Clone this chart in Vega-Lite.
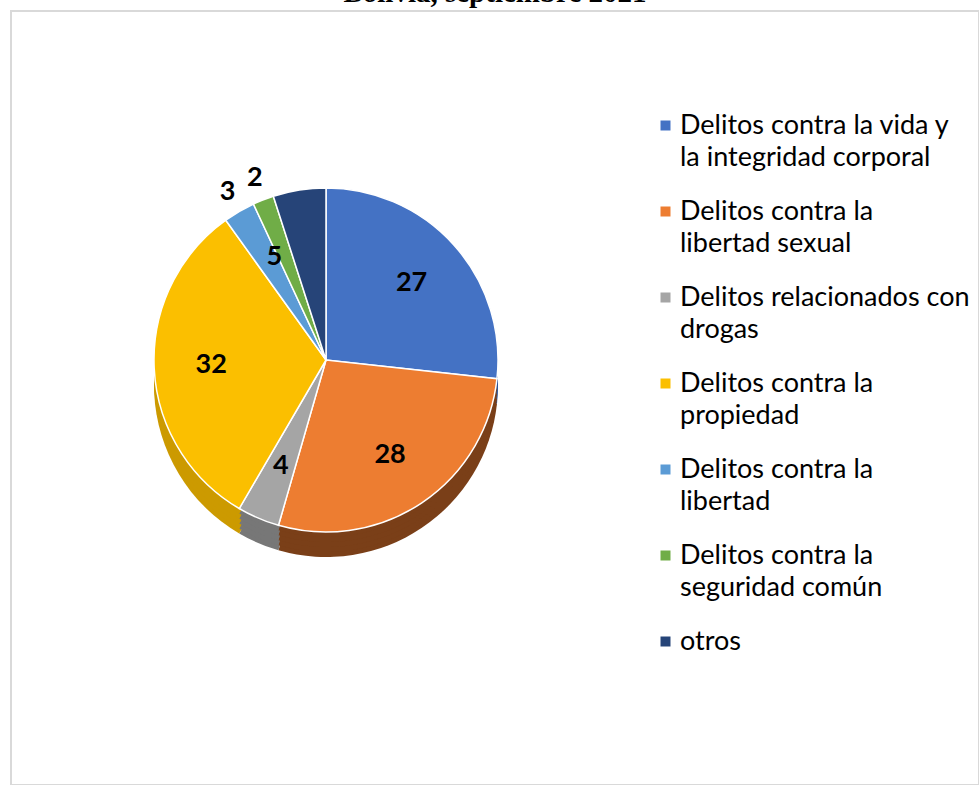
{
  "$schema": "https://vega.github.io/schema/vega-lite/v6.json",
  "width": 968,
  "height": 774,
  "autosize": {"type": "none"},
  "padding": {"left": 11, "top": 11, "right": 0, "bottom": 0},
  "background": "white",
  "config": {
    "view": {"stroke": null},
    "font": "Lato",
    "style": {"guide-label": {"lineHeight": 32}}
  },
  "title": {
    "text": "Bolivia, septiembre 2021",
    "font": "Liberation Serif",
    "fontSize": 29,
    "fontWeight": "bold",
    "color": "black",
    "anchor": "middle",
    "baseline": "alphabetic",
    "offset": 0,
    "dy": 21
  },
  "data": {
    "values": [
      {"delito": "Delitos contra la vida y la integridad corporal", "valor": 27, "orden": 1},
      {"delito": "Delitos contra la libertad sexual", "valor": 28, "orden": 2},
      {"delito": "Delitos relacionados con drogas", "valor": 4, "orden": 3},
      {"delito": "Delitos contra la propiedad", "valor": 32, "orden": 4},
      {"delito": "Delitos contra la libertad", "valor": 3, "orden": 5},
      {"delito": "Delitos contra la seguridad común", "valor": 2, "orden": 6},
      {"delito": "otros", "valor": 5, "orden": 7}
    ]
  },
  "layer": [
    {
      "data": {"values": [{}]},
      "mark": {"type": "rect", "fill": null, "stroke": "#d9d9d9", "strokeWidth": 2},
      "encoding": {}
    },
    {
      "layer": [
        {"mark": {"type": "arc", "outerRadius": 172, "xOffset": -169, "yOffset": -13}},
        {"mark": {"type": "arc", "outerRadius": 172, "xOffset": -169, "yOffset": -18}},
        {"mark": {"type": "arc", "outerRadius": 172, "xOffset": -169, "yOffset": -23}},
        {"mark": {"type": "arc", "outerRadius": 172, "xOffset": -169, "yOffset": -28}},
        {"mark": {"type": "arc", "outerRadius": 172, "xOffset": -169, "yOffset": -33}}
      ],
      "encoding": {
        "theta": {"field": "valor", "type": "quantitative", "stack": true},
        "order": {"field": "orden", "type": "quantitative"},
        "color": {
          "field": "delito",
          "type": "nominal",
          "scale": {
            "domain": ["Delitos contra la vida y la integridad corporal", "Delitos contra la libertad sexual", "Delitos relacionados con drogas", "Delitos contra la propiedad", "Delitos contra la libertad", "Delitos contra la seguridad común", "otros"],
            "range": ["#2f5597", "#7a3f18", "#777777", "#cc9a00", "#3f76a8", "#4f7f31", "#1a2f54"]
          },
          "legend": null
        }
      }
    },
    {
      "mark": {"type": "arc", "outerRadius": 172, "xOffset": -169, "yOffset": -38, "stroke": "white", "strokeWidth": 1.5},
      "encoding": {
        "theta": {"field": "valor", "type": "quantitative", "stack": true},
        "order": {"field": "orden", "type": "quantitative"},
        "color": {
          "field": "delito",
          "type": "nominal",
          "scale": {
            "domain": ["Delitos contra la vida y la integridad corporal", "Delitos contra la libertad sexual", "Delitos relacionados con drogas", "Delitos contra la propiedad", "Delitos contra la libertad", "Delitos contra la seguridad común", "otros"],
            "range": ["#4472c4", "#ed7d31", "#a5a5a5", "#fbbf00", "#5b9bd5", "#70ad47", "#264478"]
          },
          "legend": {
            "title": null,
            "orient": "none",
            "legendX": 641,
            "legendY": 101,
            "symbolType": "square",
            "symbolSize": 100,
            "symbolStrokeWidth": 0,
            "labelFont": "Lato",
            "labelFontSize": 27,
            "labelColor": "black",
            "labelLimit": 400,
            "labelOffset": 1,
            "rowPadding": 26,
            "labelExpr": "datum.label == 'Delitos contra la vida y la integridad corporal' ? ['Delitos contra la vida y', 'la integridad corporal'] : datum.label == 'Delitos contra la libertad sexual' ? ['Delitos contra la', 'libertad sexual'] : datum.label == 'Delitos relacionados con drogas' ? ['Delitos relacionados con', 'drogas'] : datum.label == 'Delitos contra la propiedad' ? ['Delitos contra la', 'propiedad'] : datum.label == 'Delitos contra la libertad' ? ['Delitos contra la', 'libertad'] : datum.label == 'Delitos contra la seguridad común' ? ['Delitos contra la', 'seguridad común'] : datum.label"
          }
        }
      }
    },
    {
      "transform": [{"filter": "datum.valor >= 4"}],
      "mark": {"type": "text", "radius": 115, "xOffset": -169, "yOffset": -38, "font": "Lato", "fontSize": 27, "fontWeight": "bold", "color": "black"},
      "encoding": {
        "theta": {"field": "valor", "type": "quantitative", "stack": true},
        "order": {"field": "orden", "type": "quantitative"},
        "text": {"field": "valor", "type": "quantitative"}
      }
    },
    {
      "mark": {"type": "text", "radius": 195, "xOffset": -169, "yOffset": -38, "font": "Lato", "fontSize": 27, "fontWeight": "bold", "color": "black"},
      "encoding": {
        "theta": {"field": "valor", "type": "quantitative", "stack": true},
        "order": {"field": "orden", "type": "quantitative"},
        "text": {"condition": {"test": "datum.valor < 4", "field": "valor", "type": "quantitative"}, "value": ""}
      }
    }
  ],
  "resolve": {"scale": {"color": "independent"}}
}
